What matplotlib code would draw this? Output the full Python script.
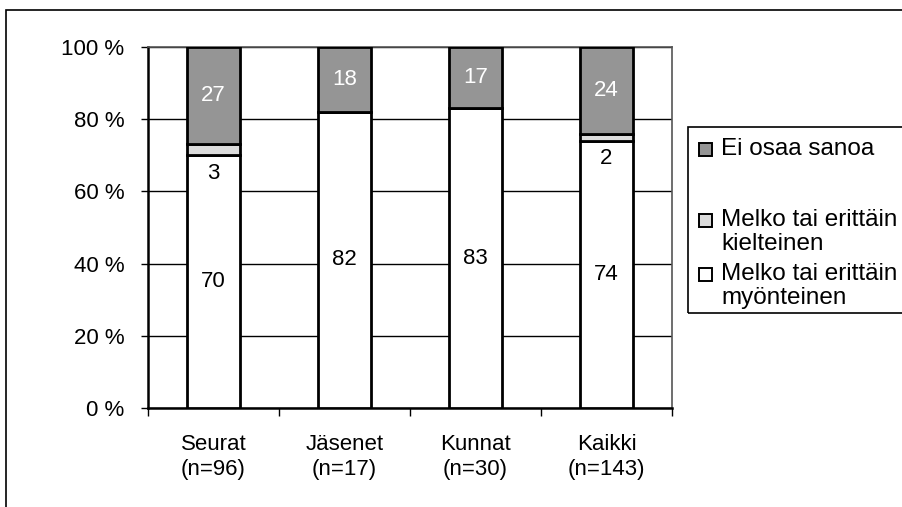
"""
stacked bar chart of attitudes by respondent group
"""

import matplotlib.pyplot as plt
from matplotlib.patches import Rectangle
from matplotlib.ticker import FixedLocator, FuncFormatter

plt.rcParams['font.family'] = ['Liberation Sans', 'DejaVu Sans']

# groups and shares (%)
groups = ['Seurat\n(n=96)', 'Jäsenet\n(n=17)', 'Kunnat\n(n=30)', 'Kaikki\n(n=143)']
positive = [70, 82, 83, 74]
negative = [3, 0, 0, 2]
dont_know = [27, 18, 17, 24]

series_labels = ['Ei osaa sanoa', 'Melko tai erittäin\nkielteinen',
                 'Melko tai erittäin\nmyönteinen']
series_colors = ['#959595', '#dcdcdc', 'white']

W, H = 902, 507
fig = plt.figure(figsize=(W / 100, H / 100), dpi=100)
ax = fig.add_axes([148/W, 1 - 408/H, 524/W, 361/H])

x = range(len(groups))
w = 0.40
bottom2 = [p + n for p, n in zip(positive, negative)]
ax.bar(x, positive, w, color=series_colors[2], edgecolor='black', lw=2, zorder=3)
ax.bar(x, negative, w, bottom=positive, color=series_colors[1],
       edgecolor='black', lw=2, zorder=3)
ax.bar(x, dont_know, w, bottom=bottom2, color=series_colors[0],
       edgecolor='black', lw=2, zorder=3)

fs = 16
for i in x:
    ax.text(i, positive[i] / 2, str(positive[i]), ha='center', va='center',
            fontsize=fs, zorder=4)
    if negative[i] > 0:
        ax.annotate(str(negative[i]), (i, positive[i]), xytext=(0, -13),
                    textcoords='offset points', ha='center', va='center',
                    fontsize=fs, zorder=4)
    ax.text(i, bottom2[i] + dont_know[i] / 2, str(dont_know[i]), ha='center',
            va='center', fontsize=fs, color='white', zorder=4)

ax.set_xlim(-0.5, len(groups) - 0.5)
ax.set_ylim(0, 100)
ax.yaxis.set_major_locator(FixedLocator([0, 20, 40, 60, 80, 100]))
ax.yaxis.set_major_formatter(FuncFormatter(lambda v, p: '%d %%' % v))
ax.grid(axis='y', color='black', lw=1, zorder=0)
ax.set_xticks(list(x))
ax.set_xticklabels(groups, fontsize=fs, linespacing=1.25)
ax.set_xticks([i - 0.5 for i in range(len(groups) + 1)], minor=True)
ax.tick_params(axis='x', which='major', length=0, pad=19)
ax.tick_params(axis='x', which='minor', length=6, width=1, direction='out')
ax.tick_params(axis='y', length=5, width=1, direction='out', labelsize=fs, pad=12)
for s in ['left', 'bottom']:
    ax.spines[s].set_linewidth(1.8)
for s in ['top', 'right']:
    ax.spines[s].set_color('#555555')
    ax.spines[s].set_linewidth(1.2)

# outer chart frame
fig.patches.append(Rectangle((6/W, -0.1), 1.2, 1 - 10/H + 0.1,
                             transform=fig.transFigure, fill=False,
                             edgecolor='black', lw=1.2))

# legend box, drawn by hand
lx, ly_top, ly_bot = 688/W, 1 - 127/H, 1 - 313/H
fig.patches.append(Rectangle((lx, ly_bot), 0.4, ly_top - ly_bot,
                             transform=fig.transFigure, fill=False,
                             edgecolor='black', lw=1.2))
entry_y = [149, 232, 286]
line_h = 23
for lab, col, yy in zip(series_labels, series_colors, entry_y):
    nlines = lab.count('\n') + 1
    hy = yy - (nlines - 1) * line_h / 2
    fig.patches.append(Rectangle((699/W, 1 - (hy + 6.5)/H), 13/W, 13/H,
                                 transform=fig.transFigure, facecolor=col,
                                 edgecolor='black', lw=1.4))
    fig.text(721/W, 1 - yy/H, lab, fontsize=17.5, va='center', ha='left',
             linespacing=1.12)

fig.savefig('out.png', dpi=100)
